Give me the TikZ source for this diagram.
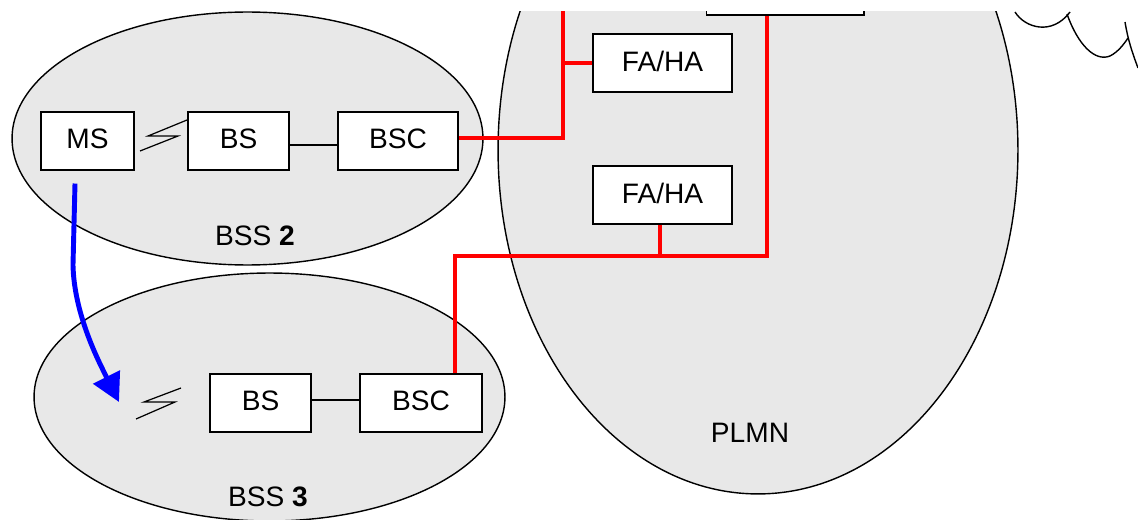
\documentclass[tikz,border=0pt]{standalone}
\usepackage{fontspec}
\setmainfont{Liberation Sans}
\usetikzlibrary{arrows.meta,calc}
\definecolor{zone}{HTML}{E8E8E8}
\begin{document}
\begin{tikzpicture}[x=0.02cm,y=-0.02cm,
  zonestyle/.style={draw=black,line width=0.8pt,fill=zone},
  boxstyle/.style={draw=black,line width=0.6pt,fill=white,inner sep=0pt,minimum height=1.16cm,text depth=0.08cm,font=\fontsize{16}{18}\selectfont},
  lbl/.style={font=\fontsize{16}{18}\selectfont,inner sep=0pt},
  link/.style={draw=black,line width=0.6pt},
  redlink/.style={draw=red,line width=2.2pt},
  bolt/.style={draw=black,line width=0.7pt},
  cloud/.style={draw=black,line width=0.8pt}]
\useasboundingbox (0,0) rectangle (1138,520);
\clip (0,12) rectangle (1138,520);
% zones
\draw[zonestyle] (247.5,138.5) ellipse [x radius=4.71cm, y radius=2.53cm];
\draw[zonestyle] (269.5,397) ellipse [x radius=4.71cm, y radius=2.48cm];
\draw[zonestyle] (758,150) ellipse [x radius=5.2cm, y radius=6.88cm];
% cloud fragment
\draw[cloud] (1015,12) .. controls (1025,28) and (1052,36) .. (1070,12);
\draw[cloud] (1067,14) .. controls (1078,45) and (1095,62) .. (1110,56) .. controls (1118,52) and (1124,44) .. (1128,38);
\draw[cloud] (1125,22) .. controls (1128,40) and (1132,52) .. (1138,68);
% boxes
\node[boxstyle,minimum width=1.86cm] (ms) at (87.5,141) {MS};
\node[boxstyle,minimum width=2.02cm] (bs1) at (238.5,141) {BS};
\node[boxstyle,minimum width=2.4cm] (bsc1) at (398,141) {BSC};
\node[boxstyle,minimum width=2.78cm] (fa1) at (662.5,63) {FA/HA};
\node[boxstyle,minimum width=2.78cm] (fa2) at (662.5,195) {FA/HA};
\node[boxstyle,minimum width=3.16cm] (top) at (785,-14) {};
\node[boxstyle,minimum width=2.02cm] (bs2) at (260.5,403) {BS};
\node[boxstyle,minimum width=2.44cm] (bsc2) at (421,403) {BSC};
% labels
\node[lbl] (l2) at (255,236) {BSS \textbf{2}};
\node[lbl] (l3) at (268,497) {BSS \textbf{3}};
\node[lbl] (lp) at (750,433) {PLMN};
% thin links
\draw[link] ($(bs1.east)+(0,4)$) -- ($(bsc1.west)+(0,4)$);
\draw[link] ($(bs2.east)+(0,-3)$) -- ($(bsc2.west)+(0,-3)$);
% radio bolts
\draw[bolt] (140,151) -- (178,136) -- (148,136) -- (187,120);
\draw[bolt] (136,419) -- (175,402) -- (144,402) -- (181,388);
% red links
\coordinate (up1) at (563,0);
\coordinate (j2) at (767,256);
\coordinate (fa2b) at ($(fa2.south)+(-2.5,0)$);
\draw[redlink] ($(bsc1.east)+(0,-3)$) -| (up1);
\draw[redlink] (fa1.west) -- (fa1.west -| up1);
\draw[redlink] ($(bsc2.north)+(34,0)$) |- (j2) -- ($(top.south)+(-18,0)$);
\draw[redlink] (fa2b) -- (fa2b |- j2);
% handover arrow
\coordinate (hoend) at (119,402);
\draw[blue,line width=2.8pt,-{Triangle[length=0.56cm,width=0.58cm]}]
  ($(ms.south)+(-12.5,13)$) -- (73,265) .. controls (74,315) and (100,364) .. (hoend);
\end{tikzpicture}
\end{document}
